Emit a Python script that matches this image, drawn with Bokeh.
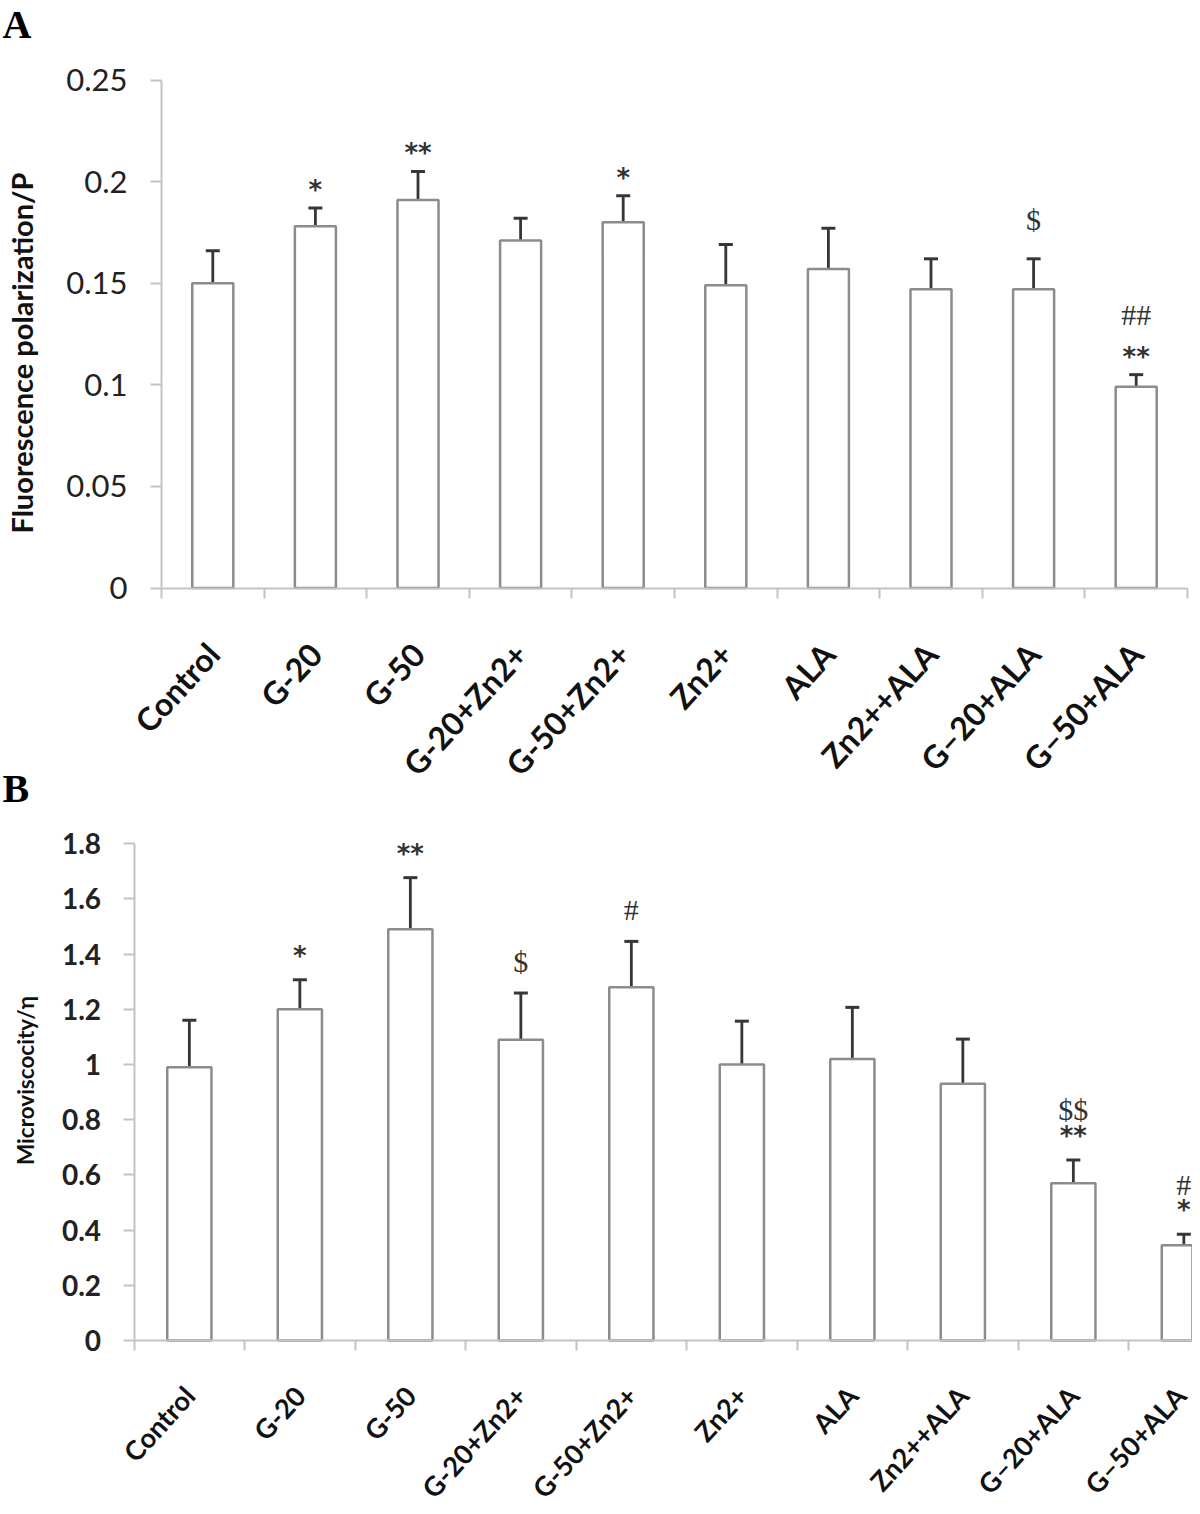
from bokeh.plotting import figure
from bokeh.models import (ColumnDataSource, Whisker, TeeHead, FixedTicker, Range1d,
                          NumeralTickFormatter, CustomJSTickFormatter, Label, LinearAxis)
from bokeh.core.properties import value
from bokeh.embed import file_html
from bokeh.resources import INLINE

# ---------------- data ----------------
categories = ["Control", "G-20", "G-50", "G-20+Zn2+", "G-50+Zn2+", "Zn2+", "ALA",
              "Zn2++ALA", "G–20+ALA", "G–50+ALA"]

pol_mean = [0.150, 0.178, 0.191, 0.171, 0.180, 0.149, 0.157, 0.147, 0.147, 0.099]
pol_err = [0.016, 0.009, 0.014, 0.011, 0.013, 0.020, 0.020, 0.015, 0.015, 0.006]
pol_star = ["", "*", "**", "", "*", "", "", "", "", "**"]
pol_sym = ["", "", "", "", "", "", "", "", "$", "##"]
pol_ticks = [0, 0.05, 0.1, 0.15, 0.2, 0.25]

vis_mean = [0.99, 1.20, 1.49, 1.09, 1.28, 1.00, 1.02, 0.93, 0.57, 0.345]
vis_err = [0.170, 0.107, 0.187, 0.169, 0.166, 0.157, 0.187, 0.162, 0.084, 0.040]
vis_star = ["", "*", "**", "", "", "", "", "", "**", "*"]
vis_sym = ["", "", "", "$", "#", "", "", "", "$$", "#"]
vis_ticks = [0, 0.2, 0.4, 0.6, 0.8, 1.0, 1.2, 1.4, 1.6, 1.8]

FONT = "Lato"
AXIS_GREY = "#c3c3c3"
BAR_GREY = "#8c8c8c"
ERR_COL = "#363636"

# canvas size (fits the window inside the page margin)
W, H = 1192, 1506

p = figure(width=W, height=H, output_backend="svg", toolbar_location=None,
           x_range=Range1d(0, W), y_range=Range1d(H, 0),
           x_axis_type=None, y_axis_type=None, min_border=0)
p.outline_line_color = None
p.xgrid.visible = False
p.ygrid.visible = False


def panel(name, mean, err, star, sym, ticks, ylabel, *, x0, ppc, y0, ppu, y_top,
          xlab_size, xlab_standoff, ytick_size, ytick_bold, ytick_standoff,
          ytitle_size, ytitle_standoff, ytitle_center_px, star_pad, sym_pad, sym_pad2):
    """x0: canvas px of category edge -0.5, ppc: px per category,
       y0: canvas px of value 0, ppu: px per unit."""
    n = len(categories)
    xs = list(range(n))
    xr, yr = "x" + name, "y" + name
    p.extra_x_ranges[xr] = Range1d(-0.5 - x0 / ppc, -0.5 + (W - x0) / ppc)
    p.extra_y_ranges[yr] = Range1d(-(H - y0) / ppu, y0 / ppu)

    src = ColumnDataSource(dict(
        x=xs, top=mean,
        upper=[m + e for m, e in zip(mean, err)],
        lower=[m - e for m, e in zip(mean, err)],
        star=star, sym=sym,
        sym_off=[-(sym_pad2 if s else sym_pad) for s in star],
    ))
    p.vbar(x="x", top="top", bottom=0, width=0.4, source=src,
           fill_color="white", line_color=BAR_GREY, line_width=2.5,
           x_range_name=xr, y_range_name=yr)
    p.add_layout(Whisker(base="x", upper="upper", lower="lower", source=src,
                         x_range_name=xr, y_range_name=yr,
                         line_color=ERR_COL, line_width=2.8,
                         upper_head=TeeHead(size=14, line_color=ERR_COL, line_width=3),
                         lower_head=TeeHead(size=14, line_color=ERR_COL, line_width=3)))
    p.text(x="x", y="upper", text="star", source=src, y_offset=-star_pad,
           x_range_name=xr, y_range_name=yr,
           text_align="center", text_baseline="middle",
           text_font=value("DejaVu Sans"), text_font_style="bold",
           text_font_size="26px", text_color="#333333")
    p.text(x="x", y="upper", text="sym", source=src, y_offset="sym_off",
           x_range_name=xr, y_range_name=yr,
           text_align="center", text_baseline="middle",
           text_font=value("Liberation Serif"), text_font_size="30px",
           text_color="#333333")

    # x axis (fixed at value 0)
    xa = LinearAxis(x_range_name=xr, y_range_name=yr, fixed_location=0,
                    bounds=(-0.5, n - 0.5))
    xa.ticker = FixedTicker(ticks=xs, minor_ticks=[i - 0.5 for i in range(n + 1)])
    xa.formatter = CustomJSTickFormatter(args=dict(labels=categories),
                                         code="return labels[Math.round(tick)] || '';")
    xa.axis_line_color = AXIS_GREY
    xa.axis_line_width = 2
    xa.major_tick_line_color = None
    xa.major_tick_in = 0
    xa.major_tick_out = 0
    xa.minor_tick_line_color = AXIS_GREY
    xa.minor_tick_line_width = 2
    xa.minor_tick_in = 0
    xa.minor_tick_out = 10
    xa.major_label_orientation = 0.83
    xa.major_label_standoff = xlab_standoff
    xa.major_label_text_font = FONT
    xa.major_label_text_font_style = "bold"
    xa.major_label_text_font_size = xlab_size
    xa.major_label_text_color = "#111111"
    p.add_layout(xa, "below")

    # y axis (fixed at the left edge of the first category)
    ya = LinearAxis(x_range_name=xr, y_range_name=yr, fixed_location=-0.5,
                    bounds=(0, y_top))
    ya.ticker = FixedTicker(ticks=ticks, minor_ticks=[])
    ya.formatter = NumeralTickFormatter(format="0.[00]")
    ya.axis_line_color = AXIS_GREY
    ya.axis_line_width = 2
    ya.major_tick_line_color = AXIS_GREY
    ya.major_tick_line_width = 2
    ya.major_tick_in = 0
    ya.major_tick_out = 11
    ya.minor_tick_line_color = None
    ya.major_label_standoff = ytick_standoff
    ya.major_label_text_font = FONT
    ya.major_label_text_font_size = ytick_size
    ya.major_label_text_font_style = "bold" if ytick_bold else "normal"
    ya.major_label_text_color = "#222222"
    p.add_layout(ya, "left")

    # axis title carried by a tick-less axis so it can be centred where the original is
    c = (y0 - ytitle_center_px) / ppu
    ta = LinearAxis(x_range_name=xr, y_range_name=yr, fixed_location=-0.5,
                    bounds=(2 * c - y_top, y_top))
    ta.ticker = FixedTicker(ticks=[], minor_ticks=[])
    ta.axis_line_color = None
    ta.major_tick_line_color = None
    ta.minor_tick_line_color = None
    ta.major_tick_in = ta.major_tick_out = 0
    ta.minor_tick_in = ta.minor_tick_out = 0
    ta.axis_label = ylabel
    ta.axis_label_text_font = FONT
    ta.axis_label_text_font_style = "bold"
    ta.axis_label_text_font_size = ytitle_size
    ta.axis_label_text_color = "#111111"
    ta.axis_label_standoff = ytitle_standoff
    p.add_layout(ta, "left")


panel("a", pol_mean, pol_err, pol_star, pol_sym, pol_ticks, "Fluorescence polarization/P",
      x0=161, ppc=102.6, y0=587.5, ppu=2032, y_top=0.25,
      xlab_size="32px", xlab_standoff=50, ytick_size="31px", ytick_bold=False,
      ytick_standoff=23, ytitle_size="29px", ytitle_standoff=123, ytitle_center_px=352,
      star_pad=18, sym_pad=39, sym_pad2=60)

panel("b", vis_mean, vis_err, vis_star, vis_sym, vis_ticks, "Microviscocity/η",
      x0=133.6, ppc=110.5, y0=1340, ppu=276, y_top=1.8,
      xlab_size="27px", xlab_standoff=40, ytick_size="28px", ytick_bold=True,
      ytick_standoff=22, ytitle_size="22.5px", ytitle_standoff=96, ytitle_center_px=1080,
      star_pad=24, sym_pad=32, sym_pad2=50)

for letter, lx, ly in (("A", 2, 24), ("B", 2, 788)):
    p.add_layout(Label(x=lx, y=ly, text=letter, text_font="Liberation Serif",
                       text_font_style="bold", text_font_size="40px",
                       text_color="black", text_align="left", text_baseline="middle"))

open("out.html", "w").write(file_html(p, INLINE))
